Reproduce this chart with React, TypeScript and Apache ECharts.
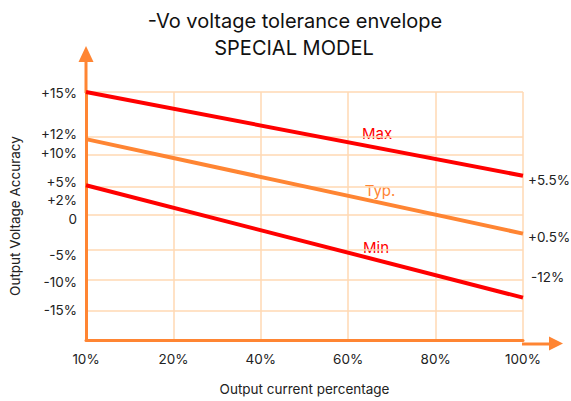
import React, { useEffect, useRef } from "react";
import * as echarts from "echarts";

// ---- data ----
const categories = ["10%", "20%", "40%", "60%", "80%", "100%"];
// tolerance envelope, % (start at 10% load, end at 100% load)
const maxValues = [15, 6.7];
const typValues = [11.7, -2.7];
const minValues = [5.2, -12.9];
// y tick labels and gridlines
const yLabelTexts = ["+15%", "+12%", "+10%", "+5%", "+2%", "0", "-5%", "-10%", "-15%"];
const gridPercents = [15, 12, 10, 5, 0, -5, -10, -15];
// annotation texts
const endTexts = ["+5.5%", "+0.5%", "-12%"];
const seriesNames = ["Max", "Typ.", "Min"];

// ---- layout of the hand-drawn (non-linear) vertical scale ----
// axis level (distance above x axis, px) of each gridline percent
const gridLevels = [252, 207, 188, 156, 127, 92, 61, 30];
// axis level where each y label text sits (hand placed in the original)
const yLabelLevels = [251, 209, 190, 161, 142, 123, 86, 59, 30];

function toLevel(p: number): number {
  for (let i = 0; i < gridPercents.length - 1; i++) {
    const a = gridPercents[i];
    const b = gridPercents[i + 1];
    if (p <= a && p >= b) {
      const t = (a - p) / (a - b);
      return gridLevels[i] + t * (gridLevels[i + 1] - gridLevels[i]);
    }
  }
  if (p > gridPercents[0]) return gridLevels[0];
  return gridLevels[gridLevels.length - 1];
}

const ORANGE = "#ff8533";
const RED = "#ff0000";
const GRID = "#ffd9b3";
const TEXT = "#222";
const FONT = "Inter";

export default function App() {
  const ref = useRef<HTMLDivElement>(null);
  useEffect(() => {
    if (!ref.current) return;
    const chart = echarts.init(ref.current, null, { renderer: "svg" });
    const gridLvls = gridPercents.map(toLevel);
    const lastCat = categories[categories.length - 1];
    const mk = (vals: number[]) => [
      [categories[0], toLevel(vals[0])],
      [lastCat, toLevel(vals[1])],
    ];
    const option: any = {
      animation: false,
      backgroundColor: "#fff",
      textStyle: { fontFamily: FONT },
      grid: { left: 86, right: 48, top: 92, bottom: 57, containLabel: false },
      xAxis: {
        type: "category",
        data: categories,
        boundaryGap: false,
        axisLine: { show: true, lineStyle: { color: ORANGE, width: 3 } },
        axisTick: { show: false },
        splitLine: { show: true, lineStyle: { color: GRID, width: 1.5 } },
        axisLabel: { color: TEXT, fontSize: 13.5, fontFamily: FONT, margin: 12 },
        name: "Output current percentage",
        nameLocation: "middle",
        nameGap: 42,
        nameTextStyle: { color: TEXT, fontSize: 13.5, fontFamily: FONT },
      },
      yAxis: [
        {
          type: "value",
          min: 0,
          max: 252,
          axisLine: { show: true, lineStyle: { color: ORANGE, width: 3 } },
          axisTick: { show: false, customValues: gridLvls },
          splitLine: { show: true, lineStyle: { color: GRID, width: 1.5 } },
          axisLabel: {
            customValues: yLabelLevels,
            color: TEXT,
            fontSize: 13.5,
            fontFamily: FONT,
            margin: 9,
            formatter: (v: number) => {
              let best = 0;
              let d = Infinity;
              yLabelLevels.forEach((l, i) => {
                if (Math.abs(l - v) < d) {
                  d = Math.abs(l - v);
                  best = i;
                }
              });
              return yLabelTexts[best];
            },
          },
          name: "Output Voltage Accuracy",
          nameLocation: "middle",
          nameGap: 64,
          nameRotate: 90,
          nameTextStyle: { color: TEXT, fontSize: 13.5, fontFamily: FONT },
        },
      ],
      series: [
        {
          name: seriesNames[0],
          type: "line",
          data: mk(maxValues),
          symbol: "none",
          lineStyle: { color: RED, width: 4 },
          z: 3,
        },
        {
          name: seriesNames[1],
          type: "line",
          data: mk(typValues),
          symbol: "none",
          lineStyle: { color: ORANGE, width: 4 },
          z: 3,
        },
        {
          name: seriesNames[2],
          type: "line",
          data: mk(minValues),
          symbol: "none",
          lineStyle: { color: RED, width: 4 },
          z: 3,
        },
      ],
      graphic: [
        {
          type: "text",
          x: 295,
          y: 21,
          style: {
            text: "-Vo voltage tolerance envelope",
            fontSize: 20,
            fontFamily: FONT,
            fill: "#111",
            textAlign: "center",
            textVerticalAlign: "middle",
          },
        },
        {
          type: "text",
          x: 294,
          y: 48,
          style: {
            text: "SPECIAL MODEL",
            fontSize: 20,
            fontFamily: FONT,
            fill: "#111",
            textAlign: "center",
            textVerticalAlign: "middle",
          },
        },
        // axis extensions with arrows
        { type: "line", shape: { x1: 86, y1: 93, x2: 86, y2: 58 }, style: { stroke: ORANGE, lineWidth: 3 } },
        { type: "polygon", shape: { points: [[86, 46], [78.5, 62], [93.5, 62]] }, style: { fill: ORANGE } },
        { type: "line", shape: { x1: 522, y1: 344, x2: 553, y2: 344 }, style: { stroke: ORANGE, lineWidth: 3 } },
        { type: "polygon", shape: { points: [[563, 343.5], [549, 336.5], [549, 350.5]] }, style: { fill: ORANGE } },
        // series name labels
        { type: "text", x: 377, y: 133, style: { text: seriesNames[0], fontSize: 15, fontFamily: FONT, fill: RED, textAlign: "center", textVerticalAlign: "middle" } },
        { type: "text", x: 380, y: 190, style: { text: seriesNames[1], fontSize: 15, fontFamily: FONT, fill: ORANGE, textAlign: "center", textVerticalAlign: "middle" } },
        { type: "text", x: 376, y: 247, style: { text: seriesNames[2], fontSize: 15, fontFamily: FONT, fill: RED, textAlign: "center", textVerticalAlign: "middle" } },
        // end values
        { type: "text", x: 528, y: 180, style: { text: endTexts[0], fontSize: 13.5, fontFamily: FONT, fill: TEXT, textAlign: "left", textVerticalAlign: "middle" } },
        { type: "text", x: 528, y: 237, style: { text: endTexts[1], fontSize: 13.5, fontFamily: FONT, fill: TEXT, textAlign: "left", textVerticalAlign: "middle" } },
        { type: "text", x: 531, y: 277, style: { text: endTexts[2], fontSize: 13.5, fontFamily: FONT, fill: TEXT, textAlign: "left", textVerticalAlign: "middle" } },
      ],
    };
    chart.setOption(option);
    return () => chart.dispose();
  }, []);
  return (
    <div
      ref={ref}
      style={{ position: "fixed", left: 0, top: 0, width: 571, height: 401, background: "#fff" }}
    />
  );
}
